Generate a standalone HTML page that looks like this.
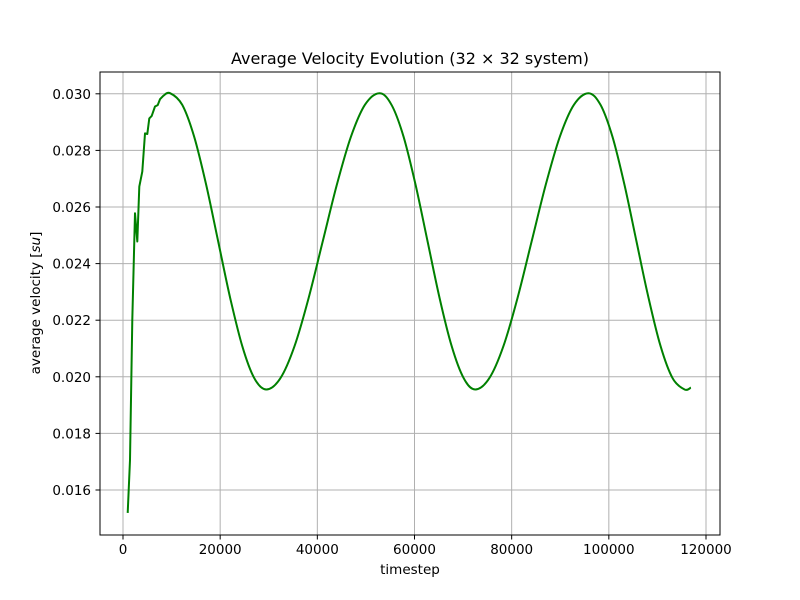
<!DOCTYPE html>
<html><head><meta charset="utf-8"><style>
body{margin:0;background:#fff}
svg{display:block;font-family:"DejaVu Sans","Liberation Sans",sans-serif}
</style></head><body>
<svg id="chart" width="800" height="600">
<rect width="800" height="600" fill="#fff"/>
<g id="grid"></g>
<g id="ticks"></g>
<path id="line" fill="none" stroke="#008000" stroke-width="2" stroke-linejoin="round"/>
<rect x="100" y="72" width="620" height="463" fill="none" stroke="#000" stroke-width="1"/>
<text x="410" y="64" text-anchor="middle" font-size="16">Average Velocity Evolution (32 × 32 system)</text>
<text x="410" y="574" text-anchor="middle" font-size="13.5">timestep</text>
<text transform="translate(40,303) rotate(-90)" text-anchor="middle" font-size="13.5">average velocity [<tspan font-style="italic">su</tspan>]</text>
</svg>
<script>
const steps=[970,1440,1920,2470,2940,3360,3970,4530,5000,5410,5900,6590,7140,7610,8300,9700,
12175,14650,17125,19600,22075,24550,27025,29500,
32400,35300,38200,41100,44000,46900,49800,52800,
55275,57750,60225,62700,65175,67650,70125,72500,
75400,78300,81200,84100,87000,89900,92800,95800,
98275,100750,103225,105700,108175,110650,113125,115600,116900];
const velocity=[0.01519,0.01706,0.02201,0.02578,0.02478,0.02672,0.02725,0.0286,0.02858,0.02913,0.02922,0.02955,0.0296,0.02981,0.02993,0.03002,
0.02961,0.02848,0.02678,0.02478,0.02278,0.02108,0.01995,0.01955,
0.01995,0.02108,0.02278,0.02478,0.02678,0.02848,0.02961,0.03002,
0.02961,0.02848,0.02678,0.02478,0.02278,0.02108,0.01995,0.01955,
0.01995,0.02108,0.02278,0.02478,0.02678,0.02848,0.02961,0.03002,
0.02961,0.02848,0.02678,0.02478,0.02278,0.02108,0.01995,0.01955,0.01962];
const xTicks=[0,20000,40000,60000,80000,100000,120000];
const yTicks=[0.016,0.018,0.020,0.022,0.024,0.026,0.028,0.030];
const ns="http://www.w3.org/2000/svg";
const X=v=>123+v/120000*583;
const Y=v=>490-(v-0.016)/0.002*56.6;
const grid=document.getElementById('grid'),ticks=document.getElementById('ticks');
function mk(tag,attrs,parent){const e=document.createElementNS(ns,tag);for(const k in attrs)e.setAttribute(k,attrs[k]);parent.appendChild(e);return e;}
xTicks.forEach(t=>{const x=X(t);
 const g=mk('line',{x1:x,x2:x,y1:72,y2:535,stroke:'#b0b0b0','stroke-width':1},grid);
 
 
 mk('line',{x1:x,x2:x,y1:535,y2:539.5,stroke:'#000'},ticks);
 const tx=mk('text',{x:x,y:554,'text-anchor':'middle','font-size':13.5},ticks);tx.textContent=t;
 
 
});
yTicks.forEach(t=>{const y=Y(t);
 const g=mk('line',{x1:100,x2:720,y1:y,y2:y,stroke:'#b0b0b0','stroke-width':1},grid);
 
 
 mk('line',{x1:95.5,x2:100,y1:y,y2:y,stroke:'#000'},ticks);
 const tx=mk('text',{x:91,y:y+5,'text-anchor':'end','font-size':13.5},ticks);tx.textContent=t.toFixed(3);
 
 
});
const P=steps.map((s,i)=>[X(s),Y(velocity[i])]);
const SMOOTH_FROM=14;
let d='M'+P[0][0].toFixed(1)+','+P[0][1].toFixed(1);
for(let i=1;i<P.length;i++){
 if(i<=SMOOTH_FROM){d+='L'+P[i][0].toFixed(1)+','+P[i][1].toFixed(1);continue;}
 const p0=P[i-2]||P[i-1],p1=P[i-1],p2=P[i],p3=P[i+1]||P[i];
 const c1=[p1[0]+(p2[0]-p0[0])/6,p1[1]+(p2[1]-p0[1])/6];
 const c2=[p2[0]-(p3[0]-p1[0])/6,p2[1]-(p3[1]-p1[1])/6];
 d+='C'+c1.map(v=>v.toFixed(1)).join(',')+' '+c2.map(v=>v.toFixed(1)).join(',')+' '+p2.map(v=>v.toFixed(1)).join(',');
}
document.getElementById('line').setAttribute('d',d);
</script>
</body></html>
